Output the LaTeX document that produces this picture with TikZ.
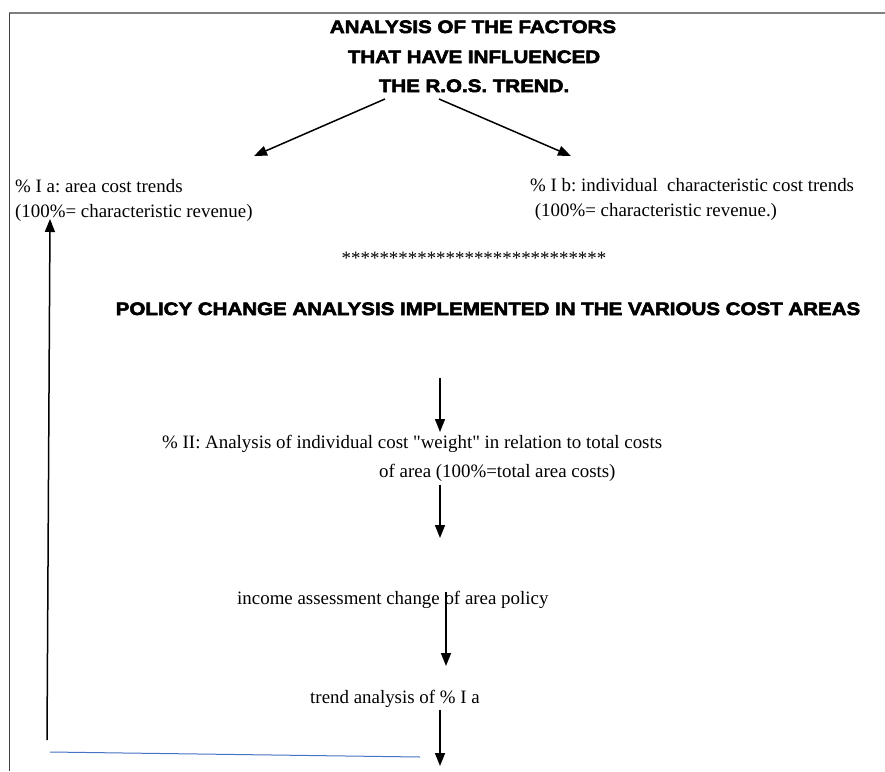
\documentclass[tikz,border=0pt]{standalone}
\usepackage{fontspec}
\setmainfont{Liberation Serif}[Ligatures=TeXOff]
\newfontfamily\headfont[FakeBold=3.2,FakeStretch=1.14]{Liberation Sans Bold}
\usetikzlibrary{arrows.meta}
\definecolor{framegray}{HTML}{7F7F7F}
\definecolor{frameleft}{HTML}{404040}
\definecolor{linkblue}{HTML}{4472C4}
\frenchspacing
\tikzset{
  body/.style={inner sep=0pt, font=\fontsize{18.9}{18.9}\selectfont},
  head/.style={inner sep=0pt, anchor=base, font=\headfont\fontsize{18}{18}\selectfont},
  flow/.style={line width=1.5pt, -{Triangle[length=13pt,width=10pt]}},
}
\begin{document}
\begin{tikzpicture}[x=1pt,y=-1pt]
  \useasboundingbox (0,0) rectangle (885,771);
  % page frame
  \draw[framegray, line width=1.5pt] (9,13) -- (885,13);
  \draw[frameleft, line width=1pt] (9,13) -- (9,771);

  % title
  \node[head] (t1) at (473,33) {ANALYSIS OF THE FACTORS};
  \node[head] (t2) at (474,63) {THAT HAVE INFLUENCED};
  \node[head] (t3) at (474,92) {THE R.O.S. TREND.};

  % branch texts
  \node[body, anchor=base west] (ia1) at (15,192) {\% I a: area cost trends};
  \node[body, anchor=base west] (ia2) at (15,217) {(100\%= characteristic revenue)};
  \node[body, anchor=base west] (ib1) at (530,191) {\% I b: individual\ \ characteristic cost trends};
  \node[body, anchor=base west] (ib2) at (530,216) {\ (100\%= characteristic revenue.)};

  \coordinate (lsrc) at (385,99);
  \coordinate (ldst) at (254,156);
  \coordinate (rsrc) at (439,99);
  \coordinate (rdst) at (571,156);
  \draw[flow] (lsrc) -- (ldst);
  \draw[flow] (rsrc) -- (rdst);

  % separator
  \node[body, anchor=base] (stars) at (474,264) {****************************};

  % policy section
  \node[head] (pol) at (488,315) {POLICY CHANGE ANALYSIS IMPLEMENTED IN THE VARIOUS COST AREAS};

  \node[body, anchor=base west] (ii1) at (162,448) {\% II: Analysis of individual cost "weight" in relation to total costs};
  \node[body, anchor=base west] (ii2) at (379,477) {of area (100\%=total area costs)};
  \node[body, anchor=base west] (inc) at (237,604) {income assessment change of area policy};
  \node[body, anchor=base west] (tr) at (310,703) {trend analysis of \% I a};

  \coordinate (a1s) at (440,378);
  \coordinate (a1e) at (440,432);
  \coordinate (a2s) at (440,485);
  \coordinate (a2e) at (440,538);
  \coordinate (a3s) at (446,592);
  \coordinate (a3e) at (446,666);
  \coordinate (a4s) at (440,710);
  \coordinate (a4e) at (440,766);
  \draw[flow] (a1s) -- (a1e);
  \draw[flow] (a2s) -- (a2e);
  \draw[flow] (a3s) -- (a3e);
  \draw[flow] (a4s) -- (a4e);

  % feedback to % I a
  \coordinate (fbs) at (47,740);
  \coordinate (fbe) at (50,219);
  \draw[flow] (fbs) -- (fbe);
  \coordinate (bl1) at (50,752);
  \coordinate (bl2) at (420,757);
  \draw[linkblue, line width=1pt] (bl1) -- (bl2);
\end{tikzpicture}
\end{document}
